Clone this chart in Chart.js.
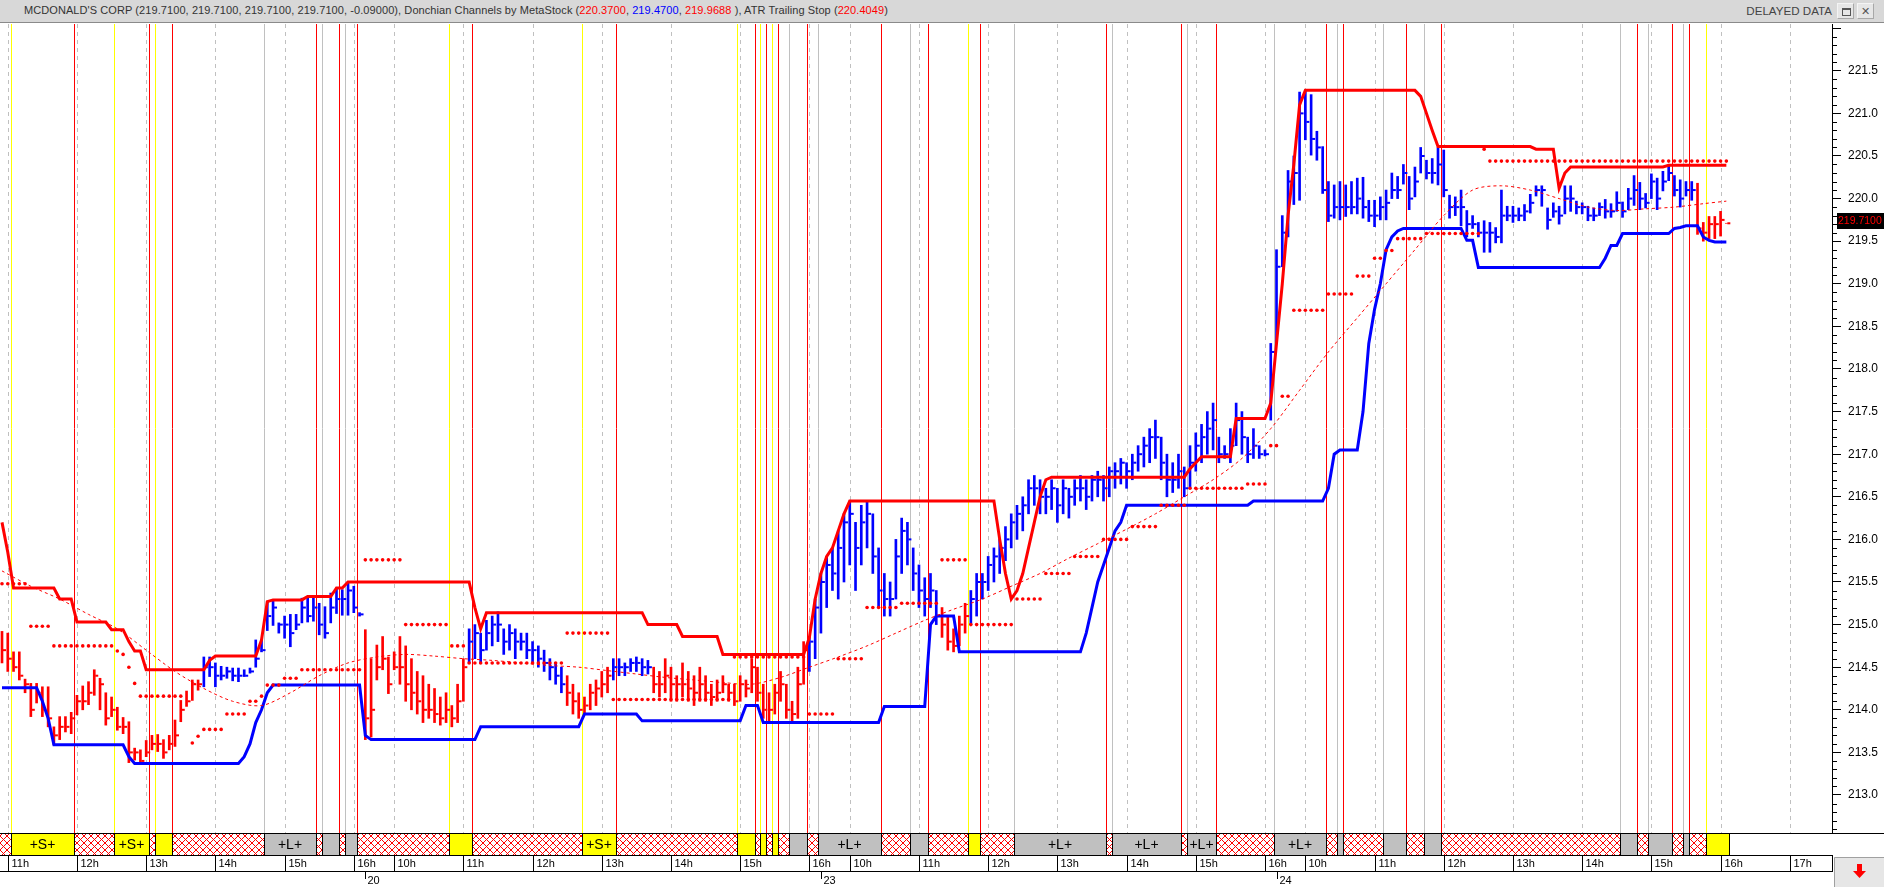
<!DOCTYPE html>
<html><head><meta charset="utf-8">
<script src="https://cdn.jsdelivr.net/npm/chart.js@4.4.1/dist/chart.umd.min.js"></script>
<style>
html,body{margin:0;padding:0;background:#fff;width:1884px;height:887px;overflow:hidden;font-family:"Liberation Sans",Arial,sans-serif;}
#hdr{position:absolute;left:0;top:0;width:1884px;height:23px;background:#d8d8d8;border-bottom:1px solid #8a8a8a;box-sizing:border-box;}
#ttl{position:absolute;left:24px;top:4px;font-size:11px;letter-spacing:0.08px;color:#333;white-space:nowrap;}
#ttl .r{color:#ff0000}#ttl .b{color:#0000ff}
#dd{position:absolute;right:52px;top:4px;font-size:11.6px;color:#444;}
.btn{position:absolute;top:3px;width:17px;height:16px;background:#e6e6e6;border:1px solid #f4f4f4;border-right-color:#a8a8a8;border-bottom-color:#a8a8a8;box-sizing:border-box;font-size:11px;color:#555;text-align:center;line-height:14px;}
#b1{left:1837px}#b2{left:1857px}
#b1 i{position:absolute;left:4px;top:4px;width:7px;height:5px;border:1px solid #555;border-top-width:2px;}
#wrap{position:absolute;left:0;top:24px;width:1884px;height:863px;}
</style></head><body>
<div id="hdr"><div id="ttl">MCDONALD'S CORP (219.7100, 219.7100, 219.7100, 219.7100, -0.09000), Donchian Channels by MetaStock (<span class="r">220.3700</span>, <span class="b">219.4700</span>, <span class="r">219.9688</span> ), ATR Trailing Stop (<span class="r">220.4049</span>)</div><div id="dd">DELAYED DATA</div><div class="btn" id="b1"><i></i></div><div class="btn" id="b2">&#x2715;</div></div>
<div id="wrap"><canvas id="c"></canvas></div>
<script>
// ---------------- DATA ----------------
const barHigh = [214.92,214.9,214.68,214.68,214.36,214.31,214.31,214.27,214.27,213.8,213.92,213.92,213.97,214.17,214.28,214.33,214.47,214.37,214.2,214.15,214.03,213.91,213.86,213.55,213.53,213.64,213.7,213.71,213.65,213.7,213.88,214.11,214.22,214.35,214.35,
214.62,214.62,214.55,214.51,214.5,214.49,214.49,214.47,214.49,214.82,214.82,215.27,215.29,215.02,215.1,215.12,215.12,215.31,215.31,215.31,215.25,215.21,215.37,215.43,215.41,215.5,215.45,215.14,
214.94,214.6,214.76,214.86,214.62,214.68,214.86,214.75,214.6,214.45,214.4,214.3,214.25,214.15,214.2,214.05,214.3,214.6,
214.95,215.0,214.9,215.05,215.1,215.15,214.95,215.0,214.95,214.9,214.9,214.8,214.75,214.7,214.6,214.55,214.5,
214.4,214.3,214.2,214.15,214.3,214.35,214.45,214.5,
214.6,214.6,214.55,214.6,214.62,214.6,214.58,
214.5,214.45,214.6,214.5,214.4,214.55,214.45,214.4,214.5,214.4,214.3,214.35,214.4,214.3,214.3,214.4,214.35,214.6,214.5,214.3,214.2,214.3,214.45,214.3,214.1,214.5,214.8,
214.85,215.3,215.6,215.8,215.9,216.1,216.3,216.45,216.2,216.4,216.45,216.3,215.9,215.6,215.5,216.0,216.25,216.2,215.9,215.7,215.55,215.6,215.4,
215.2,215.1,214.95,215.1,215.25,
215.4,215.6,215.6,215.8,215.9,216.0,216.15,216.3,216.4,216.5,216.7,216.75,216.7,216.6,216.7,216.6,216.7,216.6,216.7,216.75,216.7,216.75,216.8,216.75,216.85,216.9,216.95,216.9,217.0,217.1,217.2,217.3,217.4,217.2,217.0,216.9,217.0,216.85,217.1,217.25,217.35,217.5,217.6,217.2,217.1,217.3,217.6,217.5,217.2,217.3,217.1,217.05,
218.3,219.4,219.8,220.33,220.5,221.25,221.27,221.22,220.79,220.61,220.2,220.16,220.2,220.16,220.2,220.24,220.25,219.98,219.98,220.02,220.1,220.3,220.26,220.4,220.26,220.37,220.6,220.45,220.47,220.6,220.57,220.04,220.02,220.1,219.86,219.8,219.72,219.74,219.72,219.66,220.1,219.91,219.91,219.89,219.93,220.05,220.15,220.15,219.89,219.95,219.91,220.15,220.15,219.97,219.95,219.91,219.89,219.95,
219.99,219.94,220.08,219.96,220.12,220.27,220.19,220.06,220.29,220.24,220.32,220.39,220.27,220.22,220.2,220.2,220.18,219.72,219.79,219.79,219.85,219.71];
const barLow = [214.55,214.45,214.45,214.35,214.2,213.92,214.08,213.92,213.8,213.59,213.65,213.74,213.72,213.94,214.0,214.06,214.17,214.0,213.82,213.92,213.76,213.72,213.38,213.41,213.37,213.45,213.53,213.51,213.43,213.53,213.57,213.86,214.04,214.11,214.23,
214.27,214.39,214.27,214.35,214.37,214.34,214.33,214.39,214.43,214.5,214.68,214.93,214.99,214.9,214.84,214.74,214.94,215.02,215.03,215.04,214.88,214.84,215.02,215.13,215.11,215.11,215.14,215.1,
213.65,213.68,214.35,214.47,214.19,214.47,214.3,214.1,214.0,213.95,213.85,213.9,213.85,213.82,213.85,213.8,213.85,214.1,
214.55,214.6,214.55,214.7,214.75,214.8,214.65,214.7,214.6,214.7,214.6,214.55,214.5,214.45,214.35,214.3,214.2,
214.05,213.95,213.9,213.95,214.0,214.05,214.15,214.2,
214.35,214.4,214.4,214.45,214.45,214.4,214.42,
214.2,214.15,214.2,214.1,214.1,214.15,214.1,214.05,214.1,214.1,214.05,214.1,214.2,214.1,214.05,214.1,214.15,214.2,214.1,213.9,213.85,213.95,214.1,213.9,213.85,213.9,214.3,
214.45,214.6,214.9,215.2,215.4,215.3,215.5,215.7,215.4,215.7,215.9,215.6,215.2,215.1,215.1,215.3,215.6,215.7,215.4,215.2,215.1,215.2,215.0,
214.85,214.7,214.68,214.75,214.9,
215.0,215.1,215.3,215.4,215.5,215.6,215.75,215.9,216.0,216.1,216.3,216.4,216.3,216.3,216.35,216.2,216.3,216.25,216.4,216.45,216.35,216.45,216.5,216.45,216.5,216.6,216.65,216.6,216.7,216.8,216.85,216.9,216.95,216.7,216.5,216.55,216.6,216.5,216.6,216.8,216.9,217.0,217.05,216.9,216.95,216.9,217.1,217.0,216.9,216.95,216.95,216.98,
217.4,218.3,219.2,219.55,219.93,219.98,220.69,220.51,220.45,220.06,219.73,219.77,219.75,219.79,219.82,219.82,219.77,219.73,219.67,219.75,219.75,220.0,220.0,220.17,219.87,220.02,220.3,220.23,220.18,220.16,220.02,219.77,219.8,219.68,219.55,219.65,219.55,219.37,219.37,219.48,219.48,219.74,219.72,219.74,219.74,219.83,220.03,219.91,219.64,219.78,219.7,219.82,219.85,219.82,219.82,219.74,219.74,219.8,
219.77,219.78,219.85,219.78,219.87,219.92,219.87,219.89,220.0,219.87,220.09,220.21,220.03,219.9,220.03,219.98,219.58,219.5,219.53,219.53,219.56,219.71];
const barClose = [214.7,214.6,214.5,214.4,214.3,214.0,214.2,214.0,213.9,213.7,213.8,213.8,213.9,214.1,214.1,214.2,214.4,214.3,213.9,214.0,213.8,213.8,213.5,213.5,213.4,213.5,213.6,213.6,213.5,213.6,213.7,214.0,214.1,214.3,214.3,
214.5,214.5,214.4,214.4,214.45,214.4,214.4,214.4,214.45,214.6,214.7,215.1,215.2,215.0,215.0,214.9,215.0,215.2,215.1,215.2,215.0,214.9,215.2,215.3,215.3,215.4,215.2,215.12,
213.9,214.0,214.5,214.6,214.3,214.5,214.5,214.3,214.2,214.1,214.0,214.0,213.95,213.9,214.0,213.9,214.1,214.5,
214.8,214.9,214.7,214.9,215.0,215.0,214.8,214.9,214.8,214.8,214.7,214.7,214.6,214.55,214.5,214.4,214.3,
214.2,214.1,214.0,214.05,214.2,214.25,214.3,214.4,
214.5,214.5,214.5,214.55,214.55,214.5,214.5,
214.3,214.3,214.4,214.3,214.3,214.3,214.25,214.2,214.3,214.2,214.15,214.2,214.3,214.2,214.1,214.3,214.25,214.5,214.2,214.0,214.0,214.2,214.3,214.0,213.95,214.3,214.7,
214.8,215.2,215.5,215.7,215.6,215.9,216.2,216.3,215.9,216.2,216.3,215.8,215.4,215.3,215.3,215.8,216.1,216.0,215.6,215.4,215.3,215.4,215.1,
215.0,214.8,214.75,215.0,215.1,
215.3,215.5,215.5,215.7,215.8,215.9,216.0,216.2,216.3,216.4,216.6,216.6,216.5,216.5,216.6,216.4,216.6,216.5,216.6,216.6,216.5,216.7,216.7,216.6,216.8,216.8,216.9,216.8,216.9,217.0,217.1,217.2,217.2,216.9,216.7,216.7,216.8,216.6,216.9,217.1,217.2,217.3,217.4,217.0,217.0,217.1,217.4,217.2,217.0,217.1,217.0,217.0,
218.2,219.2,219.6,220.2,220.3,221.0,220.9,220.7,220.6,220.1,219.8,219.9,219.9,219.9,219.9,220.0,219.9,219.8,219.8,219.9,219.95,220.1,220.1,220.3,220.0,220.2,220.5,220.3,220.3,220.4,220.1,219.9,219.9,219.9,219.7,219.7,219.6,219.6,219.6,219.55,219.8,219.8,219.8,219.8,219.85,219.95,220.1,220.1,219.75,219.85,219.8,220.0,220.0,219.9,219.9,219.8,219.8,219.9,
219.85,219.85,219.95,219.85,220.0,220.1,220.0,219.95,220.2,220.0,220.2,220.3,220.1,220.0,220.1,220.1,219.65,219.6,219.7,219.7,219.75,219.71];
// bar colour runs: r = red, b = blue
const barColorRuns = [['r',35],['b',28],['r',18],['b',17],['r',8],['b',7],['r',27],['b',23],['r',5],['b',126],['r',6]];
// Donchian upper (value, number of bars)
const upperRuns = [[216.2,1],[215.85,1],[215.43,8],[215.3,3],[215.03,6],[214.94,3],[214.8,1],[214.69,2],[214.47,11],[214.58,1],[214.63,8],[214.82,1],[215.27,1],[215.29,6],[215.33,5],[215.43,2],[215.5,22],[215.2,1],[214.95,1],[215.14,28],[215.0,6],[214.86,7],[214.65,15],
[214.85,1],[215.3,1],[215.6,1],[215.8,1],[215.9,1],[216.1,1],[216.3,1],[216.45,26],[216.0,1],[215.6,1],[215.3,1],[215.4,1],[215.6,1],[215.9,1],[216.2,1],[216.5,1],[216.7,1],[216.73,24],[216.83,1],[216.9,1],[216.97,6],[217.42,6],
[217.6,1],[218.3,1],[219.0,1],[219.8,1],[220.4,1],[221.1,1],[221.27,20],[221.2,1],[221.0,1],[220.8,1],[220.61,17],[220.58,4],[220.12,1],[220.3,1],[220.37,17],[220.39,11]];
// Donchian lower
const lowerRuns = [[214.26,7],[214.1,1],[213.9,1],[213.59,13],[213.45,1],[213.37,19],[213.45,1],[213.6,1],[213.85,1],[214.0,1],[214.2,1],[214.29,16],[213.7,1],[213.65,19],[213.8,18],[213.95,10],[213.87,18],[214.05,3],[213.85,21],[214.04,8],[215.0,1],[215.1,4],[214.68,22],
[214.9,1],[215.2,1],[215.5,1],[215.7,1],[215.9,1],[216.1,1],[216.2,1],[216.4,22],[216.45,13],[216.6,1],[217.0,1],[217.05,4],[217.5,1],[218.3,1],[218.7,1],[219.0,1],[219.4,1],[219.55,1],[219.62,1],[219.65,11],[219.51,2],[219.19,22],[219.3,1],[219.45,2],[219.59,9],[219.65,1],[219.66,1],[219.68,3],[219.55,1],[219.51,1],[219.49,3]];
// Donchian middle line, read every 5 bars
const midBars = [0,5,10,15,20,25,30,35,40,45,50,55,60,65,70,75,80,85,90,95,100,105,110,115,120,125,130,135,140,145,150,155,160,165,170,175,180,185,190,195,200,205,210,215,220,225,230,235,240,245,250,255,260,265,270,275,280,285,290,295,299];
const midValues = [215.63,215.45,215.3,215.12,214.95,214.7,214.45,214.25,214.1,214.05,214.2,214.4,214.55,214.62,214.65,214.63,214.6,214.58,214.55,214.52,214.5,214.46,214.42,214.38,214.35,214.32,214.3,214.38,214.5,214.62,214.75,214.9,215.05,215.18,215.3,215.45,215.6,215.78,215.95,216.12,216.3,216.5,216.7,216.95,217.3,217.75,218.2,218.6,219.0,219.4,219.8,220.1,220.15,220.1,220.0,219.9,219.86,219.88,219.9,219.94,219.97];
// ATR trailing stop
const stopRuns = [[215.48,5],[214.98,4],[214.75,11],[214.69,1],[214.65,1],[214.5,1],[214.31,1],[214.16,8],[null,1],[213.61,1],[213.69,1],[213.77,4],[213.95,4],[214.1,2],[214.16,1],[214.29,3],[214.37,3],[214.47,11],
[215.76,7],[215.0,8],[214.75,3],[214.55,17],[214.9,8],[214.12,21],[214.62,13],[213.95,5],[214.6,5],[215.2,6],[215.25,7],[215.76,5],
[215.0,8],[215.3,5],[215.6,5],[215.8,5],[216.0,5],[216.15,5],[216.4,5],[216.6,10],[216.65,4],[217.1,2],[217.68,2],[218.69,6],[218.88,5],[219.09,3],[219.3,2],[219.39,2],[219.53,5],[219.59,10],[220.58,1],[220.44,42]];
// signal band: [first bar of segment, type]  H hatched, Y yellow (short), G grey (long)
const segments = [[0,'H'],[2,'Y'],[13,'H'],[20,'Y'],[26,'H'],[27,'Y'],[30,'H'],[46,'G'],[55,'H'],[56,'G'],[59,'H'],[60,'G'],[62,'H'],[78,'Y'],[82,'H'],[101,'Y'],[107,'H'],
[128,'Y'],[131,'H'],[132,'Y'],[133,'H'],[134,'Y'],[135,'H'],[137,'G'],[140,'H'],[142,'G'],[153,'H'],[158,'G'],[161,'H'],[168,'Y'],[170,'H'],[176,'G'],[192,'H'],[193,'G'],[205,'H'],[206,'G'],[211,'H'],
[221,'G'],[230,'H'],[232,'G'],[233,'H'],[240,'G'],[244,'H'],[247,'G'],[250,'H'],[281,'G'],[284,'H'],[286,'G'],[290,'H'],[292,'G'],[293,'H'],[296,'Y']];
const segEnd = 300;
const segLabels = {Y: '+S+', G: '+L+'};
// axis labels
const hourTickBars = [1,13,25,37,49,61,68,80,92,104,116,128,140,147,159,171,183,195,207,219,226,238,250,262,274,286,298,310];
const hourLabels = ['11h','12h','13h','14h','15h','16h','10h','11h','12h','13h','14h','15h','16h','10h','11h','12h','13h','14h','15h','16h','10h','11h','12h','13h','14h','15h','16h','17h'];
const dateTickBars = [63,142,221];
const dateLabels = ['20','23','24'];
const yTickValues = [213.0,213.5,214.0,214.5,215.0,215.5,216.0,216.5,217.0,217.5,218.0,218.5,219.0,219.5,220.0,220.5,221.0,221.5,222.0];
const yTickLabels = ['213.0','213.5','214.0','214.5','215.0','215.5','216.0','216.5','217.0','217.5','218.0','218.5','219.0','219.5','220.0','220.5','221.0','221.5',''];
const lastPrice = 219.71;

// ---------------- BUILD ----------------
const expand = runs => { const o = []; runs.forEach(([v, n]) => { for (let i = 0; i < n; i++) o.push(v); }); return o; };
const RED = '#ff0000', BLUE = '#0000ff';
const barColors = expand(barColorRuns).map(c => c === 'r' ? RED : BLUE);
const upper = expand(upperRuns), lower = expand(lowerRuns), stop = expand(stopRuns);
const FONT = '"Liberation Sans", Arial, sans-serif';

const hatch = (() => {
  const c = document.createElement('canvas'); c.width = 7; c.height = 7;
  const g = c.getContext('2d'); g.fillStyle = '#fff'; g.fillRect(0, 0, 7, 7);
  g.strokeStyle = '#ff0000'; g.lineWidth = 1;
  g.beginPath(); g.moveTo(0, 0); g.lineTo(7, 7); g.moveTo(7, 0); g.lineTo(0, 7); g.stroke();
  return c;
})();

const lineColor = {H: '#ff0000', Y: '#ffff00', G: '#c0c0c0'};

const decor = {
  id: 'decor',
  beforeDatasetsDraw(chart) {
    const {ctx, chartArea: a, scales: {x}} = chart;
    ctx.save();
    ctx.beginPath(); ctx.rect(a.left, a.top, a.right - a.left, a.bottom - a.top); ctx.clip();
    ctx.lineWidth = 1;
    ctx.strokeStyle = '#c0c0c0'; ctx.setLineDash([4, 4]);
    hourTickBars.forEach(k => {
      const X = Math.round(x.getPixelForValue(k)) + 0.5;
      ctx.beginPath(); ctx.moveTo(X, a.top); ctx.lineTo(X, a.bottom); ctx.stroke();
    });
    ctx.setLineDash([]);
    segments.forEach(([k, t], i) => {
      if (!i) return;
      ctx.strokeStyle = lineColor[t];
      const X = Math.round(x.getPixelForValue(k - 0.5)) + 0.5;
      ctx.beginPath(); ctx.moveTo(X, a.top); ctx.lineTo(X, a.bottom); ctx.stroke();
    });
    ctx.restore();
  },
  afterDraw(chart) {
    const {ctx, chartArea: a, scales: {x, y}} = chart;
    const W = chart.width;
    const B = a.bottom;
    ctx.save();
    ctx.fillStyle = '#fff'; ctx.fillRect(0, B, W, chart.height - B);
    const pat = ctx.createPattern(hatch, 'repeat');
    const edges = [];
    segments.forEach(([k, t], i) => {
      const x0 = i === 0 ? a.left : Math.round(x.getPixelForValue(k - 0.5));
      const nk = i + 1 < segments.length ? segments[i + 1][0] : segEnd;
      const x1 = Math.round(x.getPixelForValue(nk - 0.5));
      ctx.fillStyle = t === 'H' ? pat : (t === 'Y' ? '#ffff00' : '#c0c0c0');
      ctx.fillRect(x0, B, x1 - x0, 22);
      edges.push(x0, x1);
      const lab = segLabels[t];
      if (lab) {
        ctx.font = '14px ' + FONT;
        const tw = ctx.measureText(lab).width;
        if (tw + 3 <= x1 - x0) {
          ctx.fillStyle = '#000'; ctx.textAlign = 'center'; ctx.textBaseline = 'middle';
          ctx.fillText(lab, (x0 + x1) / 2, B + 12);
        }
      }
    });
    ctx.strokeStyle = '#000'; ctx.lineWidth = 1;
    edges.forEach((e, i) => { if (i === 0) return; ctx.beginPath(); ctx.moveTo(e + 0.5, B); ctx.lineTo(e + 0.5, B + 22); ctx.stroke(); });
    ctx.beginPath(); ctx.moveTo(0, B + 0.5); ctx.lineTo(W, B + 0.5); ctx.stroke();
    ctx.beginPath(); ctx.moveTo(0, B + 22.5); ctx.lineTo(a.right, B + 22.5); ctx.stroke();
    ctx.beginPath(); ctx.moveTo(0, B + 38.5); ctx.lineTo(a.right, B + 38.5); ctx.stroke();
    ctx.beginPath(); ctx.moveTo(a.right + 0.5, B + 22); ctx.lineTo(a.right + 0.5, B + 39); ctx.stroke();
    ctx.font = '11px ' + FONT; ctx.fillStyle = '#000'; ctx.textAlign = 'left'; ctx.textBaseline = 'alphabetic';
    hourTickBars.forEach((k, i) => {
      const X = Math.round(x.getPixelForValue(k)) + 0.5;
      ctx.beginPath(); ctx.moveTo(X, B + 22); ctx.lineTo(X, B + 38); ctx.stroke();
      ctx.fillText(hourLabels[i], X + 3, B + 34);
    });
    dateTickBars.forEach((k, i) => {
      const X = Math.round(x.getPixelForValue(k)) + 0.5;
      ctx.beginPath(); ctx.moveTo(X, B + 39); ctx.lineTo(X, B + 46); ctx.stroke();
      ctx.fillText(dateLabels[i], X + 2, B + 51);
    });
    for (let v = 212.6; v < 222.05; v += 0.1) {
      const r = Math.round(v * 10) / 10;
      if (Math.abs(r * 2 - Math.round(r * 2)) < 1e-6) continue;
      const Y = Math.round(y.getPixelForValue(r)) + 0.5;
      ctx.beginPath(); ctx.moveTo(a.right, Y); ctx.lineTo(a.right + 5, Y); ctx.stroke();
    }
    const py = Math.round(y.getPixelForValue(lastPrice));
    ctx.fillStyle = '#000'; ctx.fillRect(a.right + 5, py - 10, W - a.right - 5, 16);
    ctx.fillStyle = '#ff0000'; ctx.font = '10.5px ' + FONT; ctx.textAlign = 'left'; ctx.textBaseline = 'middle';
    ctx.fillText(lastPrice.toFixed(4), a.right + 6, py - 2);
    const bx = a.right + 2, by = B + 24;
    ctx.fillStyle = '#e6e6e6'; ctx.fillRect(bx, by, W - bx, chart.height - by);
    ctx.strokeStyle = '#a0a0a0'; ctx.beginPath(); ctx.moveTo(bx + 0.5, chart.height); ctx.lineTo(bx + 0.5, by + 0.5); ctx.lineTo(W, by + 0.5); ctx.stroke();
    ctx.fillStyle = '#ff0000';
    const cx = bx + (W - bx) / 2;
    ctx.fillRect(cx - 2, by + 7, 5, 8);
    ctx.beginPath(); ctx.moveTo(cx - 6, by + 14); ctx.lineTo(cx + 7, by + 14); ctx.lineTo(cx + 0.5, by + 21); ctx.closePath(); ctx.fill();
    ctx.restore();
  }
};

const N = barHigh.length;
const idx = [...Array(N).keys()];
new Chart(document.getElementById('c'), {
  type: 'bar',
  data: {
    datasets: [
      {type: 'line', label: 'ATR Trailing Stop', data: idx.map(i => ({x: i, y: stop[i]})), showLine: false, pointStyle: 'circle', pointRadius: 1.8, pointBackgroundColor: RED, pointBorderWidth: 0, order: 0},
      {type: 'line', label: 'Donchian mid', data: midBars.map((k, i) => ({x: k, y: midValues[i]})), borderColor: RED, borderWidth: 1, borderDash: [3, 3], pointRadius: 0, tension: 0.3, order: 1},
      {type: 'line', label: 'Donchian upper', data: idx.map(i => ({x: i, y: upper[i]})), borderColor: RED, borderWidth: 3, pointRadius: 0, tension: 0, order: 2},
      {type: 'line', label: 'Donchian lower', data: idx.map(i => ({x: i, y: lower[i]})), borderColor: BLUE, borderWidth: 3, pointRadius: 0, tension: 0, order: 3},
      {type: 'line', label: 'Close', data: idx.map(i => ({x: i + 0.43, y: barClose[i]})), showLine: false, pointStyle: 'line', pointRadius: 1.5, pointBorderWidth: 2, pointBorderColor: barColors, order: 4},
      {type: 'bar', label: 'MCD', data: idx.map(i => ({x: i, y: [barLow[i], barHigh[i]]})), backgroundColor: barColors, borderWidth: 0, barThickness: 2, order: 5}
    ]
  },
  options: {
    responsive: true, maintainAspectRatio: false, animation: false, devicePixelRatio: 1, events: [],
    layout: {autoPadding: false, padding: {left: 0, right: 0, top: 0, bottom: 54}},
    plugins: {legend: {display: false}, tooltip: {enabled: false}},
    scales: {
      x: {type: 'linear', min: -0.347, max: 317.32, offset: false, display: false},
      y: {
        type: 'linear', position: 'right', min: 212.554, max: 222.049,
        afterBuildTicks: s => { s.ticks = yTickValues.map(v => ({value: v})); },
        afterFit: s => { s.width = 52; s.paddingTop = 0; s.paddingBottom = 0; },
        ticks: {callback: (v, i) => yTickLabels[i], color: '#000', font: {family: FONT, size: 12}, padding: 7, autoSkip: false},
        grid: {drawOnChartArea: false, drawTicks: true, tickLength: 9, color: '#000'},
        border: {display: true, color: '#000', width: 1}
      }
    }
  },
  plugins: [decor]
});
</script>
</body></html>
